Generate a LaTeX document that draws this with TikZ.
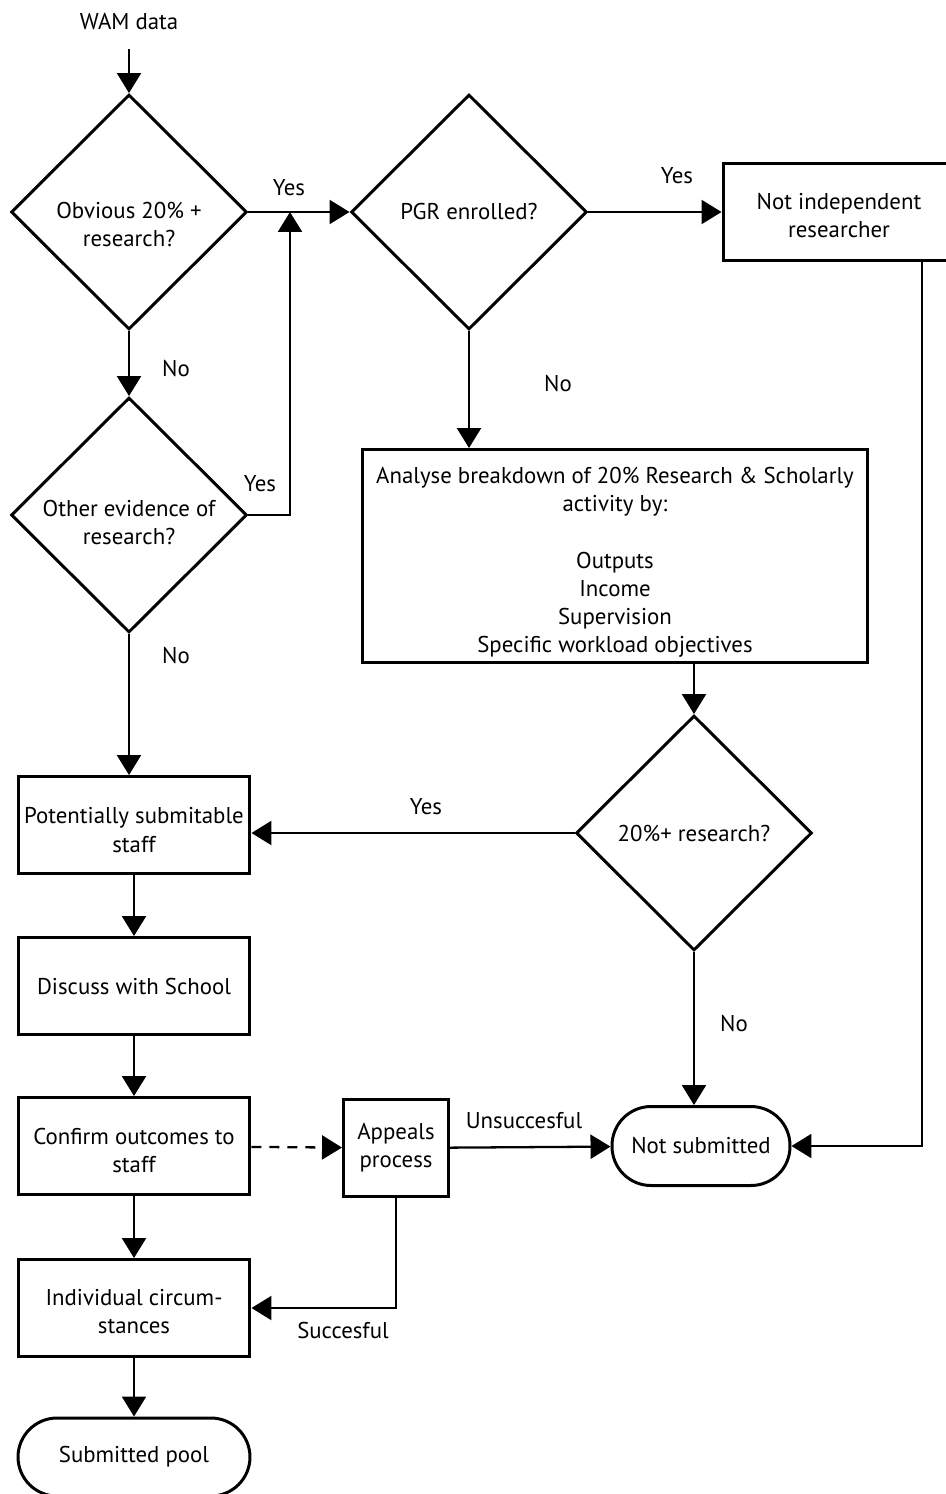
\documentclass[tikz,border=0pt]{standalone}
\usepackage{fontspec}
\setmainfont{PT Sans}
\usetikzlibrary{shapes.geometric,arrows.meta}
\newcommand{\flowfont}{\fontsize{13}{16}\selectfont}
\newcommand{\tstrut}[1]{\rule{0pt}{#1}}
\tikzset{%
  dec/.style={draw,shape=diamond,line width=1.7pt,inner sep=0pt,minimum width=4.72cm,minimum height=4.7cm,align=center,font=\flowfont},
  proc/.style={draw,shape=rectangle,line width=1.7pt,inner sep=2pt,minimum width=4.64cm,minimum height=1.94cm,align=center,font=\flowfont},
  term/.style={proc,rounded corners=0.78cm},
  txt/.style={font=\flowfont},
  fedge/.style={draw,line width=1.3pt,-{Triangle[length=0.4cm,width=0.48cm]}}
}

\begin{document}
\begin{tikzpicture}[x=0.02cm,y=-0.02cm]
    \useasboundingbox (0,0) rectangle (946,1494);
    \path
      (129,22) node (wam)[txt]{WAM data}
      (129,212) node (obv)[dec]{\tstrut{23pt}Obvious 20\% +\\research?}
      (129,515) node (oth)[dec]{\tstrut{17.5pt}Other evidence of\\research?}
      (469,212) node (pgr)[dec]{PGR enrolled?}
      (694,833) node (pct)[dec]{20\%+ research?}
      (839,212) node (nir)[proc]{\tstrut{13pt}Not independent\\researcher}
      (615,556) node (ana)[proc,minimum width=10.12cm,minimum height=4.26cm]{\tstrut{16.5pt}Analyse breakdown of 20\% Research \& Scholarly\\activity by:\\[16pt]Outputs\\Income\\Supervision\\Specific workload objectives}
      (134,825) node (pot)[proc]{\tstrut{15pt}Potentially submitable\\staff}
      (134,986) node (dis)[proc]{Discuss with School}
      (134,1146) node (con)[proc]{\tstrut{14pt}Confirm outcomes to\\staff}
      (134,1308) node (ind)[proc]{\tstrut{13pt}Individual circum-\\stances}
      (134,1457) node (sub)[term,minimum height=1.56cm]{Submitted pool}
      (396,1148) node (app)[proc,minimum width=2.1cm]{Appeals\\process}
      (701,1146) node (nsub)[term,minimum width=3.56cm,minimum height=1.58cm]{Not submitted};
    \coordinate (join) at (290,212);
    \coordinate (rline) at (922,0);
    \path
      (289,188) node (y1)[txt]{Yes}
      (677,176) node (y2)[txt]{Yes}
      (260,484) node (y3)[txt]{Yes}
      (426,807) node (y4)[txt]{Yes}
      (176,369) node (n1)[txt]{No}
      (558,384) node (n2)[txt]{No}
      (176,656) node (n3)[txt]{No}
      (734,1024) node (n4)[txt]{No}
      (524,1121) node (uns)[txt]{Unsuccesful}
      (343,1330) node (suc)[txt]{Succesful};
    \draw[fedge,shorten <=0.26cm] (wam) -- (obv);
    \draw[fedge] (obv) -- (pgr);
    \draw[fedge] (obv) -- (oth);
    \draw[fedge] (oth.east) -| (join);
    \draw[fedge] (pgr) -- (nir);
    \draw[fedge] (pgr.south) -- (pgr.south |- ana.north);
    \draw[fedge] (ana.south -| pct) -- (pct);
    \draw[fedge] (pct.west) -- (pct.west -| pot.east);
    \draw[fedge] (oth.south) -- (oth.south |- pot.north);
    \draw[fedge] (pct.south) -- (pct.south |- nsub.north);
    \draw[fedge] (nir.south -| rline) |- (nsub.east);
    \draw[fedge] (pot) -- (dis);
    \draw[fedge] (dis) -- (con);
    \draw[fedge] (con) -- (ind);
    \draw[fedge] (ind) -- (sub);
    \draw[fedge,dash pattern=on 0.2cm off 0.16cm] (con) -- (app);
    \draw[fedge] (app) -- (nsub);
    \draw[fedge] (app.south) |- (ind.east);
  \end{tikzpicture}
\end{document}
